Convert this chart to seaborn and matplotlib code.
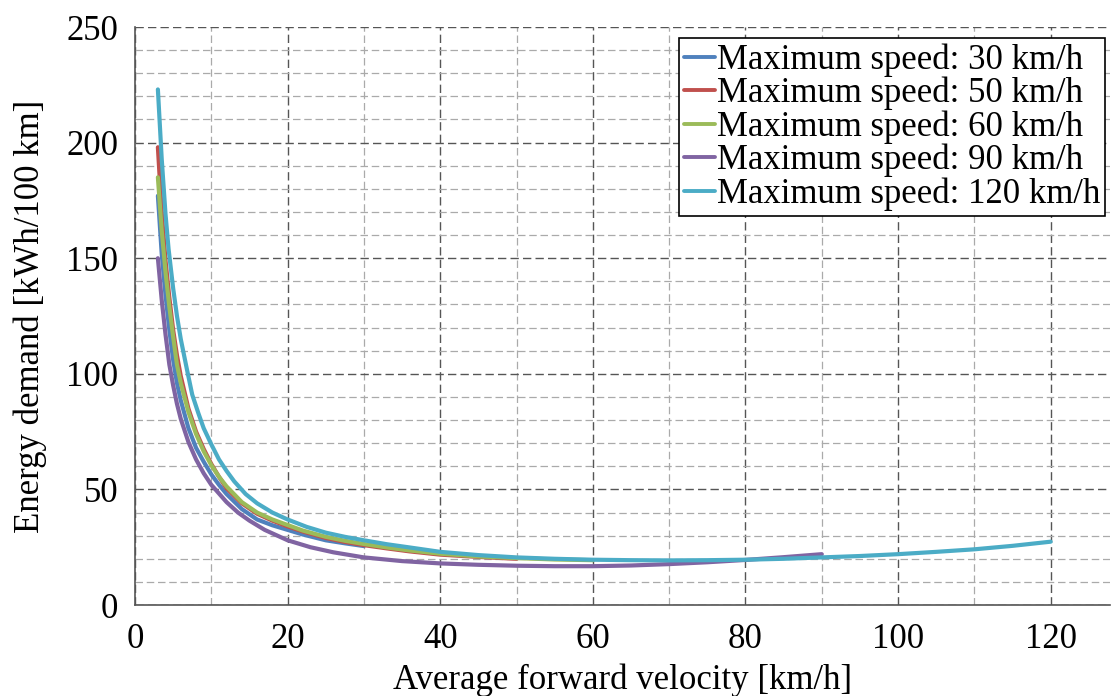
import matplotlib
matplotlib.use('Agg')
import numpy as np
import pandas as pd
import matplotlib.pyplot as plt
import seaborn as sns
from matplotlib.ticker import MultipleLocator

# values
labels = ["Maximum speed: 30 km/h", "Maximum speed: 50 km/h", "Maximum speed: 60 km/h",
          "Maximum speed: 90 km/h", "Maximum speed: 120 km/h"]
colors = ["#4F81BD", "#C0504D", "#9BBB59", "#8064A2", "#4BACC6"]

v30 = [3, 3.5, 4, 4.5, 5, 5.5, 6, 7, 8, 9, 10, 11, 12, 14, 16, 18, 20, 22, 25, 27.5, 30]
e30 = [177, 152, 134, 119, 106, 96, 88.5, 76.5, 68, 62, 56.5, 52, 48, 41.5, 37, 34.5, 32.5,
       30.5, 28, 26.7, 25.5]

v50 = [3, 3.5, 4, 4.5, 5, 5.5, 6, 7, 8, 9, 10, 11, 12, 14, 16, 18, 20, 22, 25, 27.5, 30,
       33, 36, 40, 45, 50]
e50 = [198, 170, 149, 133, 119, 108, 99, 85, 75, 67.5, 61, 55.5, 50.5, 44, 39.5, 36.5, 34,
       31.8, 29, 27.3, 25.9, 24.5, 23.2, 21.8, 20.8, 20]

v60 = [3, 3.5, 4, 4.5, 5, 5.5, 6, 7, 8, 9, 10, 11, 12, 14, 16, 18, 20, 22, 25, 27.5, 30,
       33, 36, 40, 45, 50, 55, 60]
e60 = [185, 162, 144, 129, 116, 104, 96, 83.5, 74, 66.5, 60.5, 55.5, 51.3, 44.5, 40, 37,
       34.6, 32.2, 29.5, 27.8, 26.4, 24.9, 23.6, 22.2, 21, 20.3, 19.7, 19.4]

v90 = [3, 3.5, 4, 4.5, 5, 5.5, 6, 7, 8, 9, 10, 12, 13.5, 15, 17, 20, 23, 26, 30, 35, 40,
       45, 50, 55, 60, 65, 70, 75, 80, 85, 90]
e90 = [150, 132, 117, 104, 95, 87, 80.5, 70.5, 63, 57, 52, 44.5, 40, 36.5, 32.5, 28, 25,
       22.8, 20.6, 19, 18, 17.4, 17, 16.8, 16.8, 17.1, 17.7, 18.5, 19.5, 20.7, 22]

v120 = [3, 3.5, 4, 4.4, 5, 5.5, 6, 6.8, 7.5, 8.3, 9, 10, 11, 12, 13, 14.5, 16, 18, 20, 22.5,
        25, 27.5, 30, 33, 36, 40, 45, 50, 55, 60, 65, 70, 75, 80, 85, 90, 95, 100, 105, 110,
        115, 120]
e120 = [223, 193, 169, 154, 137, 125, 115, 102, 91, 83, 76.5, 69.5, 63, 58, 53.5, 48, 44,
        40, 37, 33.8, 31.3, 29.5, 28, 26.3, 24.9, 23, 21.6, 20.6, 20, 19.6, 19.4, 19.3,
        19.4, 19.6, 20, 20.6, 21.2, 22, 23, 24.1, 25.6, 27.4]

frames = []
for lab, v, e in zip(labels, [v30, v50, v60, v90, v120], [e30, e50, e60, e90, e120]):
    frames.append(pd.DataFrame({"v": v, "e": e, "series": lab}))
df = pd.concat(frames, ignore_index=True)

sns.set_style("white")
plt.rcParams['font.family'] = ['Liberation Serif', 'DejaVu Serif']
plt.rcParams['text.color'] = 'black'
plt.rcParams['axes.labelcolor'] = 'black'

fig = plt.figure(figsize=(11.12, 6.96), dpi=100)
ax = fig.add_axes([0.1214, 0.1307, 0.877, 0.8305])

sns.lineplot(data=df, x="v", y="e", hue="series", hue_order=labels,
             palette=colors, estimator=None, sort=False, linewidth=3.0, ax=ax)

ax.set_xlim(0, 127.8)
ax.set_ylim(0, 250)
ax.xaxis.set_major_locator(MultipleLocator(20))
ax.xaxis.set_minor_locator(MultipleLocator(10))
ax.yaxis.set_major_locator(MultipleLocator(50))
ax.yaxis.set_minor_locator(MultipleLocator(10))

ax.grid(which='major', color='#555555', linestyle=(0, (6, 3)), linewidth=1.0)
ax.grid(which='minor', color='#aaaaaa', linestyle=(0, (6, 3)), linewidth=0.9)
ax.set_axisbelow(True)

for s in ['top', 'right']:
    ax.spines[s].set_visible(False)
for s in ['left', 'bottom']:
    ax.spines[s].set_color('#555555')
    ax.spines[s].set_linewidth(1.2)

ax.tick_params(which='major', direction='inout', length=12, width=1.2, color='#555555',
               labelsize=25, labelcolor='black')
ax.tick_params(axis='x', which='major', pad=7)
ax.tick_params(axis='y', which='major', pad=6)
ax.tick_params(which='minor', length=0)

ax.set_xlabel("Average forward velocity [km/h]", fontsize=25, labelpad=5, color='black')
ax.set_ylabel("Energy demand [kWh/100 km]", fontsize=25, labelpad=14, color='black')

leg = ax.legend(loc='upper right', bbox_to_anchor=(0.995, 0.981), borderaxespad=0,
                fontsize=25, handlelength=0.9, handletextpad=0.05, labelspacing=0.0,
                borderpad=0.15, frameon=True, fancybox=False, framealpha=1)
leg.get_frame().set_edgecolor('black')
leg.get_frame().set_linewidth(1.2)
for line in leg.get_lines():
    line.set_linewidth(2.8)
for t in leg.get_texts():
    t.set_color('black')

fig.savefig("out.png", dpi=100)
